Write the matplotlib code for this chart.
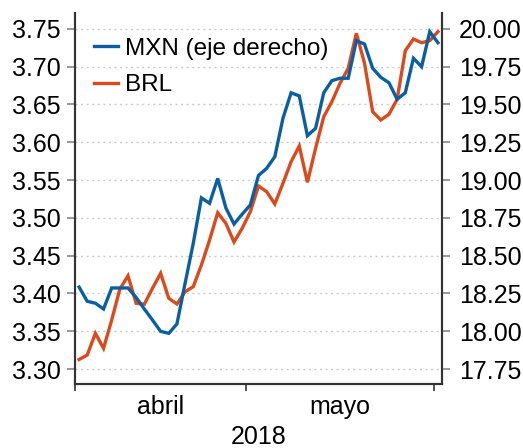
import matplotlib
matplotlib.use("Agg")
import matplotlib.pyplot as plt
import numpy as np

plt.rcParams['font.family'] = ['Liberation Sans', 'DejaVu Sans']

brl = [3.3126, 3.3185, 3.3472, 3.3274, 3.3648, 3.4058, 3.4233, 3.3869, 3.3857, 3.4067,
       3.4266, 3.3935, 3.3860, 3.4022, 3.4089, 3.4376, 3.4706, 3.5067, 3.4927, 3.4680,
       3.4861, 3.5081, 3.5421, 3.5345, 3.5183, 3.5456, 3.5742, 3.5950, 3.5470, 3.5919,
       3.6337, 3.6536, 3.6779, 3.6978, 3.7440, 3.7044, 3.6403, 3.6294, 3.6369, 3.6567,
       3.7210, 3.7365, 3.7316, 3.7343, 3.7462]
mxn = [18.292, 18.198, 18.185, 18.147, 18.286, 18.286, 18.286, 18.223, 18.147, 18.074,
       17.999, 17.986, 18.048, 18.317, 18.581, 18.882, 18.846, 19.010, 18.815, 18.709,
       18.774, 18.835, 19.030, 19.077, 19.154, 19.408, 19.577, 19.556, 19.293, 19.342,
       19.577, 19.657, 19.673, 19.673, 19.921, 19.899, 19.739, 19.679, 19.643, 19.534,
       19.577, 19.805, 19.749, 19.981, 19.908]
month_labels = ["abril", "mayo"]
month_label_pos = [10, 32]
month_bounds = [-0.5, 20.5, 43.5]
year_label = "2018"
left_ticks = [3.30, 3.35, 3.40, 3.45, 3.50, 3.55, 3.60, 3.65, 3.70, 3.75]
right_ticks = [17.75, 18.00, 18.25, 18.50, 18.75, 19.00, 19.25, 19.50, 19.75, 20.00]

BLUE = "#0a5fa3"
ORANGE = "#dc4a1c"
SPINE = "#333333"
FS = 18

fig = plt.figure(figsize=(5.23, 4.48), dpi=100)
ax = fig.add_axes([0.1434, 0.1429, 0.8451 - 0.1434, 0.971 - 0.1429])
ax2 = ax.twinx()

x = np.arange(len(brl))
lb, = ax.plot(x, brl, color=ORANGE, lw=2.4, solid_joinstyle='miter')
lm, = ax2.plot(x, mxn, color=BLUE, lw=2.4, solid_joinstyle='miter')

ax.set_ylim(3.2802, 3.7709)
ax2.set_ylim(17.651, 20.1045)
ax.set_xlim(-0.5, 44.5)

ax.set_yticks(left_ticks)
ax.set_yticklabels([f"{v:.2f}" for v in left_ticks])
ax2.set_yticks(right_ticks)
ax2.set_yticklabels([f"{v:.2f}" for v in right_ticks])

ax.set_xticks(month_bounds)
ax.set_xticklabels([])
ax.set_xticks(month_label_pos, minor=True)
ax.set_xticklabels(month_labels, minor=True)
ax.tick_params(axis='x', which='minor', length=0, labelsize=FS, pad=8)
ax.tick_params(axis='x', which='major', length=5, width=1.2, color=SPINE)
ax.set_xlabel(year_label, fontsize=FS, labelpad=4)

ax.tick_params(axis='y', labelsize=FS, length=6, width=1.2, color="#888888", pad=4)
ax2.tick_params(axis='y', labelsize=FS, length=6, width=1.2, color="#888888", pad=6)

ax.grid(axis='y', color="#cccccc", linestyle=(0, (1.5, 2.5)), lw=1.0)
ax.set_axisbelow(True)

for a in (ax, ax2):
    a.spines['top'].set_visible(False)
    for s in ('left', 'right', 'bottom'):
        a.spines[s].set_color(SPINE)
        a.spines[s].set_linewidth(1.5)

ax2.legend([lm, lb], ["MXN (eje derecho)", "BRL"], loc='upper left', frameon=False,
           fontsize=17.5, handlelength=0.95, handletextpad=0.3, labelspacing=0.6,
           borderaxespad=0.4, bbox_to_anchor=(0.0, 0.986))

fig.savefig("out.png", dpi=100)
